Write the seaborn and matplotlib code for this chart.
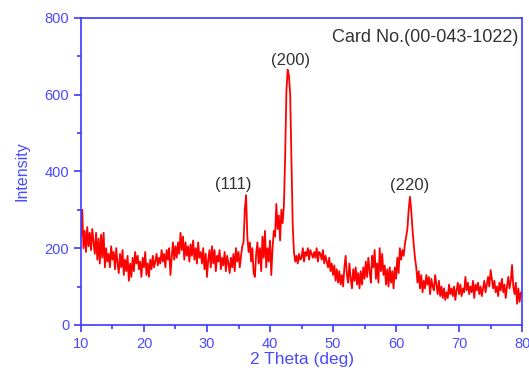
import numpy as np
import pandas as pd
import matplotlib
matplotlib.use('Agg')
import matplotlib.pyplot as plt
import seaborn as sns

# 2-theta grid, 0.2 deg step (10.0 ... 80.0)
two_theta = np.round(np.arange(10.0, 80.01, 0.2), 1)

# intensities, one row per degree (x.0, x.2, x.4, x.6, x.8)
intensity = [
    230, 300, 200, 245, 190,   # 10
    255, 205, 240, 195, 250,   # 11
    215, 185, 240, 170, 225,   # 12
    160, 235, 175, 240, 150,   # 13
    200, 165, 185, 150, 205,   # 14
    170, 190, 145, 200, 160,   # 15
    135, 185, 150, 195, 130,   # 16
    170, 140, 180, 115, 160,   # 17
    125, 175, 140, 190, 160,   # 18
    180, 145, 165, 125, 175,   # 19
    150, 190, 130, 160, 125,   # 20
    170, 145, 180, 150, 165,   # 21
    185, 155, 175, 160, 195,   # 22
    165, 185, 150, 195, 170,   # 23
    200, 130, 175, 215, 170,   # 24
    205, 175, 215, 185, 240,   # 25
    195, 230, 170, 215, 180,   # 26
    205, 165, 210, 180, 220,   # 27
    170, 200, 160, 215, 175,   # 28
    190, 160, 200, 145, 185,   # 29
    125, 170, 195, 150, 205,   # 30
    160, 195, 140, 180, 165,   # 31
    195, 145, 175, 155, 190,   # 32
    140, 180, 160, 135, 175,   # 33
    150, 185, 140, 200, 165,   # 34
    190, 150, 180, 205, 215,   # 35
    300, 338, 230, 190, 215,   # 36
    165, 200, 135, 125, 185,   # 37
    215, 160, 200, 140, 230,   # 38
    175, 245, 150, 200, 165,   # 39
    220, 130, 200, 245, 230,   # 40
    315, 250, 285, 220, 300,   # 41
    265, 310, 437, 610, 665,   # 42
    650, 600, 437, 260, 190,   # 43
    165, 180, 160, 185, 170,   # 44
    175, 200, 165, 190, 180,   # 45
    200, 170, 195, 185, 175,   # 46
    190, 175, 200, 165, 190,   # 47
    185, 170, 195, 160, 180,   # 48
    165, 150, 175, 140, 160,   # 49
    130, 155, 115, 145, 110,   # 50
    140, 105, 130, 100, 150,   # 51
    180, 130, 110, 160, 120,   # 52
    95, 145, 115, 150, 105,    # 53
    135, 95, 140, 105, 150,    # 54
    120, 165, 125, 175, 140,   # 55
    110, 180, 150, 195, 120,   # 56
    160, 110, 200, 140, 185,   # 57
    130, 155, 105, 145, 100,   # 58
    150, 110, 140, 95, 150,    # 59
    120, 175, 135, 200, 170,   # 60
    195, 180, 210, 230, 250,   # 61
    300, 334, 300, 250, 210,   # 62
    175, 150, 110, 140, 95,    # 63
    130, 85, 115, 95, 130,     # 64
    105, 125, 80, 120, 100,    # 65
    90, 130, 105, 80, 115,     # 66
    75, 100, 70, 95, 65,       # 67
    85, 70, 105, 80, 95,       # 68
    75, 100, 65, 90, 110,      # 69
    80, 105, 75, 95, 85,       # 70
    125, 90, 110, 80, 100,     # 71
    85, 115, 70, 105, 90,      # 72
    110, 80, 100, 75, 95,      # 73
    115, 85, 105, 125, 100,    # 74
    143, 120, 95, 115, 85,     # 75
    100, 75, 110, 90, 120,     # 76
    85, 105, 70, 100, 125,     # 77
    95, 115, 156, 100, 80,     # 78
    110, 55, 95, 60, 85,       # 79
    75,                        # 80
]

peak_labels = ['(111)', '(200)', '(220)']
peak_pos = [34.1, 43.3, 62.2]
peak_lab_y = [365, 690, 362]
card_text = 'Card No.(00-043-1022)'

df = pd.DataFrame({'two_theta': two_theta, 'intensity': intensity})

sns.set_style('white')
plt.rcParams['font.family'] = ['Liberation Sans', 'DejaVu Sans']

blue = '#4a4aff'
spine_blue = '#3a3aff'

fig = plt.figure(figsize=(5.29, 3.73), dpi=100)
ax = fig.add_axes([0.153, 0.129, 0.834, 0.823])

sns.lineplot(data=df, x='two_theta', y='intensity', ax=ax,
             color='#ff0000', lw=1.3, estimator=None, sort=False)

ax.set_xlim(10, 80)
ax.set_ylim(0, 800)
ax.set_xticks(range(10, 81, 10))
ax.set_xticks(range(15, 80, 10), minor=True)
ax.set_yticks(range(0, 801, 200))
ax.set_yticks(range(100, 800, 200), minor=True)

for s in ax.spines.values():
    s.set_color(spine_blue)
    s.set_linewidth(1.2)

ax.tick_params(which='both', direction='out', colors=spine_blue,
               bottom=True, left=True, top=False, right=False,
               labelcolor=blue, labelsize=10.5)
ax.tick_params(which='major', length=5, width=1.2)
ax.tick_params(which='minor', length=3, width=1.2)

ax.set_xlabel('2 Theta (deg)', color=blue, fontsize=12.5, labelpad=1)
ax.set_ylabel('Intensity', color=blue, fontsize=11.5, labelpad=11)

for lab, xp, yp in zip(peak_labels, peak_pos, peak_lab_y):
    ax.text(xp, yp, lab, ha='center', va='center', fontsize=12, color='#333333')

ax.text(79.4, 750, card_text, ha='right', va='center', fontsize=13, color='#333333')

plt.savefig('out.png', dpi=100)
